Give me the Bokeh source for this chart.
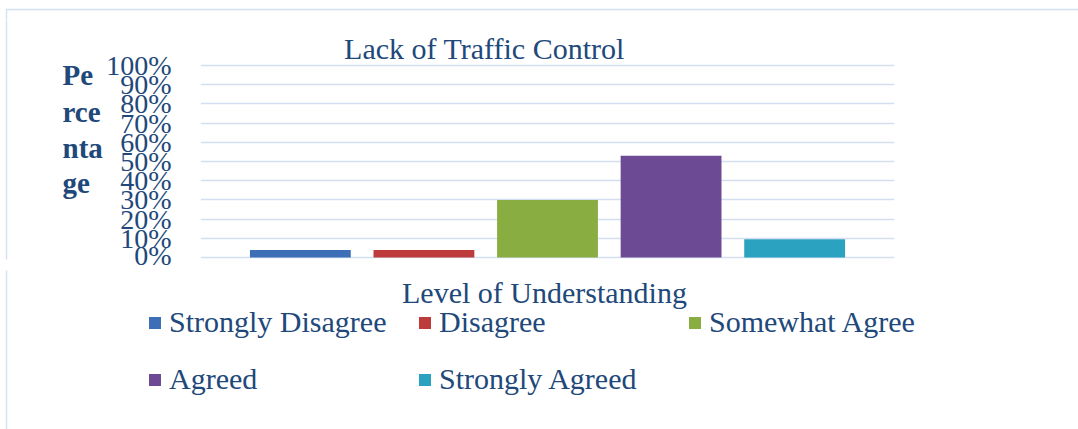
from bokeh.plotting import figure
from bokeh.layouts import column, row
from bokeh.models import (ColumnDataSource, FactorRange, Range1d, NumeralTickFormatter,
                          FixedTicker, Label, BoxAnnotation)
from bokeh.embed import file_html
from bokeh.resources import INLINE

# ---- data ----
categories = ["Strongly Disagree", "Disagree", "Somewhat Agree", "Agreed", "Strongly Agreed"]
values = [0.04, 0.04, 0.30, 0.53, 0.095]
colors = ["#3D6FB6", "#BE3B3B", "#89AD40", "#6C4B94", "#2AA2C0"]
y_ticks = [0.0, 0.1, 0.2, 0.3, 0.4, 0.5, 0.6, 0.7, 0.8, 0.9, 1.0]
title_text = "Lack of Traffic Control"
x_title = "Level of Understanding"
y_title_lines = ["Pe", "rce", "nta", "ge"]

TEXT = "#21487A"
FONT = "Liberation Serif"
BORDER = "#D4E1F3"

src = ColumnDataSource(dict(cat=categories, val=values, color=colors))


def style(f):
    f.outline_line_color = None
    f.background_fill_color = "white"
    f.border_fill_color = "white"
    f.xgrid.visible = False
    return f


def blank(width, height, **kw):
    f = figure(width=width, height=height, output_backend="svg", toolbar_location=None,
               x_axis_location=None, y_axis_location=None, min_border=0, title=None, **kw)
    style(f)
    f.ygrid.visible = False
    return f


def border_box(left, top):
    # only the left and top edges of this box fall inside a strip
    return BoxAnnotation(left=left, left_units="screen", right=5000, right_units="screen",
                         top=top, top_units="screen", bottom=-5000, bottom_units="screen",
                         fill_alpha=0, line_color=BORDER, line_alpha=1.0, line_width=1.5)


# ---------- top strip: chart-area border ----------
top = blank(1078, 20, x_range=Range1d(0, 1078), y_range=Range1d(0, 20))
top.add_layout(border_box(6, 11))

# ---------- left strip: vertical axis title ----------
left = blank(103, 250, x_range=Range1d(0, 103), y_range=Range1d(270, 20))
left.add_layout(border_box(6, 5000))
for line, yy in zip(y_title_lines, [76.5, 115.5, 153.5, 190.5]):
    left.add_layout(Label(x=62, y=yy, text=line, text_align="left",
                          text_baseline="middle", text_font=FONT,
                          text_font_style="bold", text_font_size="29px", text_color=TEXT))

# ---------- main plot (its frame also holds the title) ----------
p = figure(width=975, height=250,
           x_range=FactorRange(factors=categories, range_padding=0.1232),
           y_range=Range1d(-0.01, 1.2338),
           output_backend="svg", toolbar_location=None, title=None,
           x_axis_location=None,
           min_border_left=96, min_border_right=184,
           min_border_top=0, min_border_bottom=11)
style(p)

p.vbar(x="cat", top="val", bottom=0, width=0.816, color="color", line_color=None,
       source=src)

p.yaxis.ticker = FixedTicker(ticks=y_ticks)
p.yaxis.formatter = NumeralTickFormatter(format="0%")
p.yaxis.major_label_text_font = FONT
p.yaxis.major_label_text_font_size = "28px"
p.yaxis.major_label_text_color = TEXT
p.yaxis.major_tick_line_color = None
p.yaxis.minor_tick_line_color = None
p.yaxis.axis_line_color = None
p.yaxis.major_tick_out = 0
p.yaxis.major_label_standoff = 29

p.ygrid.ticker = FixedTicker(ticks=y_ticks)
p.ygrid.grid_line_color = "#D3DFF0"
p.ygrid.grid_line_width = 1.5

p.add_layout(Label(x=284, y=211, x_units="screen", y_units="screen", text=title_text,
                   text_align="center", text_baseline="middle", text_font=FONT,
                   text_font_size="30px", text_color=TEXT))

# ---------- bottom strip: axis title and legend ----------
bottom = blank(1078, 159, x_range=FactorRange(factors=categories),
               y_range=Range1d(10, 11))
bottom.add_layout(border_box(6, 5000))
# legend swatches come from the same data (drawn outside this strip's visible range)
bottom.vbar(x="cat", top="val", bottom=0, width=0.816, color="color", line_color=None,
            source=src, legend_field="cat")
bottom.add_layout(Label(x=544, y=137, x_units="screen", y_units="screen", text=x_title,
                        text_align="center", text_baseline="middle", text_font=FONT,
                        text_font_size="30px", text_color=TEXT))

lg = bottom.legend[0]
lg.location = (147, 32)
lg.orientation = "horizontal"
lg.ncols = 3
lg.padding = 0
lg.margin = 0
lg.spacing = 21
lg.border_line_color = None
lg.background_fill_alpha = 0
lg.label_text_font = FONT
lg.label_text_font_size = "30px"
lg.label_text_color = TEXT
lg.glyph_width = 15
lg.glyph_height = 15
lg.label_standoff = 7
lg.label_width = 227
lg.label_height = 36

layout = column(top, row(left, p), bottom)

open("out.html", "w").write(file_html(layout, INLINE))
